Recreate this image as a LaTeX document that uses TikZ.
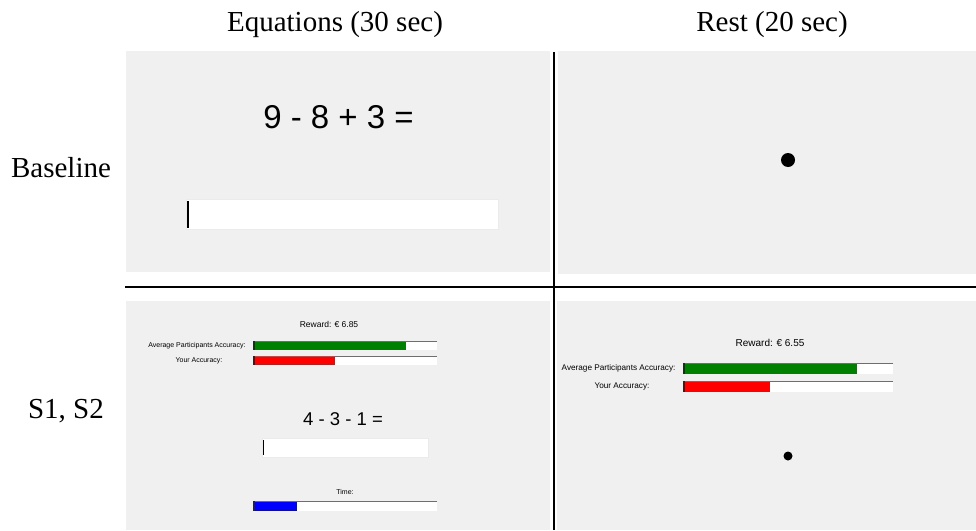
\documentclass[tikz,border=0pt]{standalone}
\usepackage{fontspec}
\setmainfont{Liberation Serif}
\setsansfont{Liberation Sans}
\usetikzlibrary{positioning}
\usetikzlibrary{calc}
\definecolor{screengray}{RGB}{240,240,240}
\definecolor{bargreen}{RGB}{0,128,0}
\definecolor{barred}{RGB}{255,0,0}
\definecolor{barblue}{RGB}{0,0,255}
\definecolor{barrim}{RGB}{110,110,110}

\begin{document}
\begin{tikzpicture}[x=1pt, y=-1pt,
    head/.style={font=\fontsize{29}{32}\selectfont},
    eqn/.style={font=\sffamily\fontsize{33}{36}\selectfont},
    small/.style={font=\sffamily\fontsize{8.5}{10}\selectfont},
    barbox/.style={anchor=north west, fill=white, inner sep=0pt, outer sep=0pt},
    inbox/.style={anchor=north west, fill=white, draw=black!8, inner sep=0pt, outer sep=0pt}]
    \useasboundingbox (0,0) rectangle (976,530);
    % screens
    \fill[screengray] (126,51) rectangle (550,272);
    \fill[screengray] (558,51) rectangle (976,274);
    \fill[screengray] (126,301) rectangle (550,530);
    \fill[screengray] (557,301) rectangle (976,530);
    % headings
    \node[head] (eq) at (335,24.5) {Equations (30 sec)};
    \node[head] (rest) at (772,24.5) {Rest (20 sec)};
    \node[head] (base) at (61,168) {Baseline};
    \node[head] (sess) at (66,411) {S1, S2};
    % baseline, equations
    \node[eqn] (q1) at (338.5,117) {9 - 8 + 3 =};
    \node[inbox, minimum width=312pt, minimum height=30pt] (in1) at (186,199) {};
    \draw[line width=1.6pt] ($(in1.north west)+(2,2)$) -- ($(in1.south west)+(2,-1)$);
    % baseline, rest
    \fill (788,160) circle (7);
    % S1, S2, equations
    \node[small] (rew1) at (329,324) {Reward: € 6.85};
    \node[barbox, minimum width=183pt, minimum height=9pt] (avg1) at (254,341) {};
    \fill[bargreen] (avg1.north west) rectangle ++(152,9);
    \node[barbox, minimum width=183pt, minimum height=9pt] (you1) at (254,356) {};
    \fill[barred] (you1.north west) rectangle ++(81,9);
    \node[small, font=\sffamily\fontsize{7}{8}\selectfont, left=5pt of avg1] (avglab1) {Average Participants Accuracy:};
    \node[small, font=\sffamily\fontsize{7}{8}\selectfont] (youlab1) at (199,361) {Your Accuracy:};
    \node[eqn, font=\sffamily\fontsize{18.5}{20}\selectfont] (q2) at (343,419) {4 - 3 - 1 =};
    \node[inbox, minimum width=166pt, minimum height=19pt] (in2) at (262,438) {};
    \draw[line width=1.2pt] ($(in2.north west)+(1.5,2)$) -- ($(in2.south west)+(1.5,-2)$);
    \node[small, font=\sffamily\fontsize{7}{8}\selectfont] (time) at (345,492) {Time:};
    \node[barbox, minimum width=183pt, minimum height=10pt] (clock) at (254,501) {};
    \fill[barblue] (clock.north west) rectangle ++(43,10);
    % S1, S2, rest
    \node[small, font=\sffamily\fontsize{10}{12}\selectfont] (rew2) at (770,343) {Reward: € 6.55};
    \node[barbox, minimum width=209pt, minimum height=11pt] (avg2) at (684,363) {};
    \fill[bargreen] (avg2.north west) rectangle ++(173,11);
    \node[barbox, minimum width=209pt, minimum height=11pt] (you2) at (684,381) {};
    \fill[barred] (you2.north west) rectangle ++(86,11);
    \node[small, font=\sffamily\fontsize{8.2}{10}\selectfont, left=5pt of avg2] (avglab2) {Average Participants Accuracy:};
    \node[small, font=\sffamily\fontsize{8.2}{10}\selectfont] (youlab2) at (622,387) {Your Accuracy:};
    \fill (788,456) circle (4.5);
    % bar rims
    \foreach \b in {avg1,you1,clock,avg2,you2} {
        \draw[barrim, line width=1pt] (\b.north west) -- (\b.north east);
        \draw[black!85, line width=1.2pt] (\b.north west) -- (\b.south west);
    }
    % dividing lines
    \draw[line width=2pt] (554,52) -- (554,530);
    \draw[line width=2pt] (125,287) -- (976,287);
\end{tikzpicture}
\end{document}
